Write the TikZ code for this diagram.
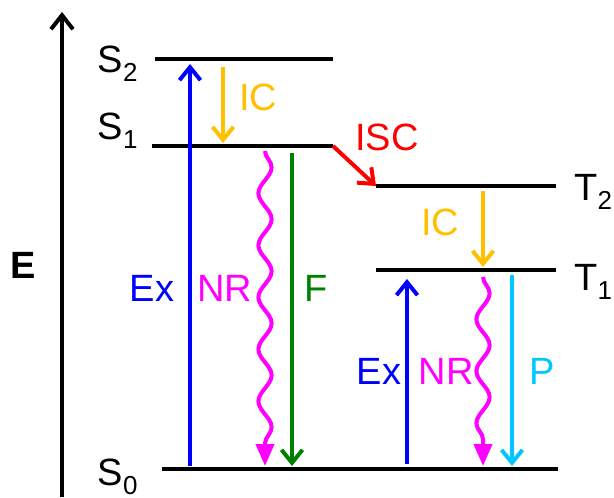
\documentclass[tikz,border=0pt]{standalone}
\usepackage{fontspec}
\setmainfont{Liberation Sans}
\usepackage{tikz}
\usetikzlibrary{arrows.meta,decorations.pathmorphing}
\definecolor{exblue}{HTML}{0000FF}
\definecolor{icorange}{HTML}{FFC000}
\definecolor{nrmag}{HTML}{FF00FF}
\definecolor{flgreen}{HTML}{008000}
\definecolor{iscred}{HTML}{FF0000}
\definecolor{phcyan}{HTML}{00C8FF}
\newcommand{\lv}[2]{#1\raisebox{-4.5pt}{\fontsize{13}{13}\selectfont #2}}

\begin{document}
\begin{tikzpicture}[
  x=0.5pt, y=-0.5pt,
  every node/.style={font=\fontsize{19}{21}\selectfont, inner sep=0pt},
  lvl/.style={line width=2.4pt},
  tr/.style={line width=2pt, -{Straight Barb[length=6.5pt,width=10.5pt]}},
  nr/.style={line width=2pt, draw=nrmag, -{Triangle[length=11pt,width=9pt]},
    decorate, decoration={snake, amplitude=3.3pt, segment length=26pt, post length=10pt}}]
  \useasboundingbox (0,0) rectangle (614,497);
  % energy axis
  \coordinate (ebot) at (62,497);
  \coordinate (etop) at (62,12);
  \draw[line width=2pt, -{Straight Barb[length=7pt,width=11pt]}] (ebot) -- (etop);
  \node[font=\fontsize{19}{21}\selectfont\bfseries] (elab) at (23,265) {E};
  % levels
  \draw[lvl] (155,59) coordinate (s2l) -- (333,59) coordinate (s2r);
  \draw[lvl] (152,146) coordinate (s1l) -- (333,146) coordinate (s1r);
  \draw[lvl] (162,469) coordinate (s0l) -- (558,469) coordinate (s0r);
  \draw[lvl] (376,186) coordinate (t2l) -- (556,186) coordinate (t2r);
  \draw[lvl] (376,270) coordinate (t1l) -- (556,270) coordinate (t1r);
  \node[anchor=base east] (s2) at (138,73) {\lv{S}{2}};
  \node[anchor=base east] (s1) at (138,140) {\lv{S}{1}};
  \node[anchor=base east] (s0) at (138,485) {\lv{S}{0}};
  \node[anchor=base west] (t2) at (574,200) {\lv{T}{2}};
  \node[anchor=base west] (t1) at (574,290) {\lv{T}{1}};
  % singlet side
  \draw[tr, exblue] (190,466) -- (190,64);
  \draw[tr, icorange] (223,67) -- (223,143);
  \draw[nr] (265,151) -- (265,466);
  \draw[tr, flgreen] (292,153) -- (292,466);
  \node[text=exblue] (ex1) at (152,288) {Ex};
  \node[text=nrmag] (nr1) at (225,288) {NR};
  \node[text=flgreen] (f) at (316,288) {F};
  \node[text=icorange] (ic1) at (258,97) {IC};
  % crossing
  \draw[tr, iscred] (s1r) -- (t2l);
  \node[text=iscred] (isc) at (387,137) {ISC};
  % triplet side
  \draw[tr, icorange] (483,191) -- (483,267);
  \node[text=icorange] (ic2) at (440,222) {IC};
  \draw[tr, exblue] (407,464) -- (407,279);
  \draw[nr] (483,277) -- (483,466);
  \draw[tr, phcyan] (512,275) -- (512,466);
  \node[text=exblue] (ex2) at (379,371) {Ex};
  \node[text=nrmag] (nr2) at (446,371) {NR};
  \node[text=phcyan] (p) at (542,371) {P};
\end{tikzpicture}
\end{document}
